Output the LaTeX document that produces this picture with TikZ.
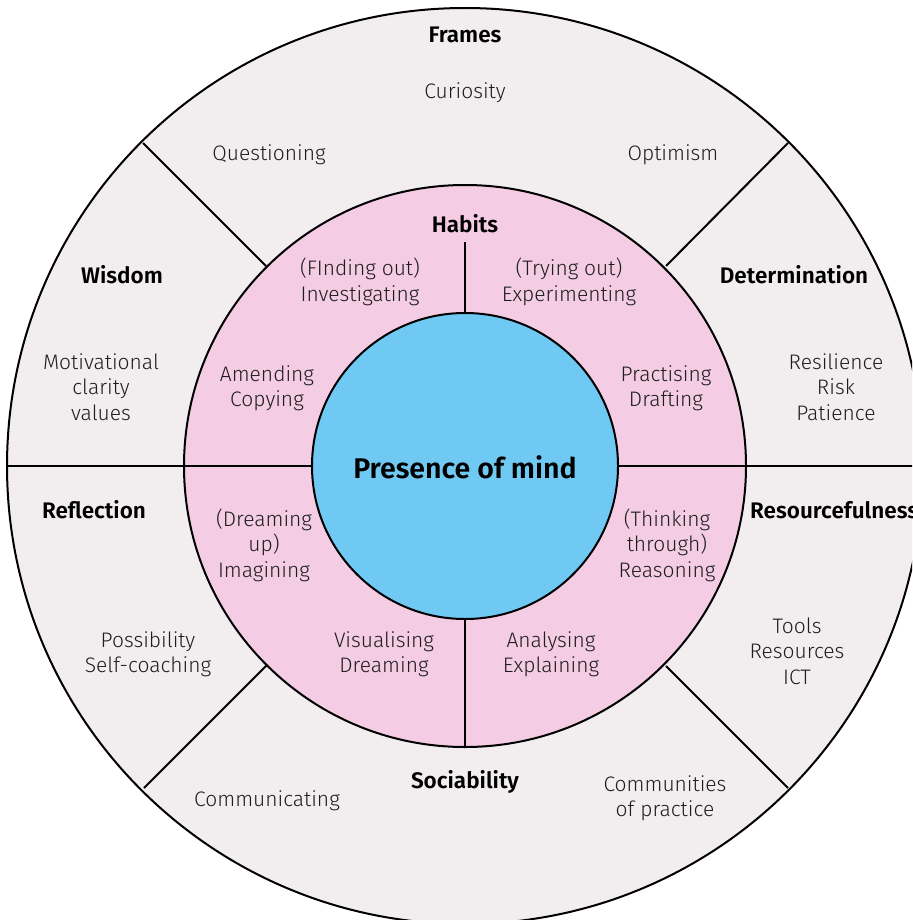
\documentclass[tikz,border=0pt]{standalone}
\usepackage{fontspec}
\setmainfont{Fira Sans}[UprightFont=* Light, BoldFont=* SemiBold]
\definecolor{outerc}{HTML}{F2EEEF}
\definecolor{pinkc}{HTML}{F4CCE3}
\definecolor{bluec}{HTML}{6FC9F3}
\definecolor{txtc}{HTML}{1E1E1E}
\begin{document}
\begin{tikzpicture}[x=1pt,y=-1pt,
  txt/.style={align=center, text=txtc, inner sep=0pt, font=\fontsize{21}{25.5}\selectfont},
  hd/.style={align=center, text=black, inner sep=0pt, font=\bfseries\fontsize{22.5}{25}\selectfont},
  ring/.style={draw=black, line width=2pt},
  sep/.style={draw=black, line width=2pt}]
\useasboundingbox (0,0) rectangle (912,920);
\clip (0,0) rectangle (912,920);
\coordinate (c) at (465,466);
\fill[white] (0,0) rectangle (912,920);
\draw[ring, fill=outerc] (c) circle (458);
\draw[ring, fill=pinkc] (c) circle (281);
% separators
\coordinate (ol) at (8,466);   \coordinate (il) at (312,466);
\coordinate (or) at (923,466); \coordinate (ir) at (618,466);
\coordinate (vt1) at (465,242); \coordinate (vt2) at (465,313);
\coordinate (vb1) at (465,619); \coordinate (vb2) at (465,747);
\draw[sep] (ol) -- (il);
\draw[sep] (ir) -- (or);
\draw[sep] (vt1) -- (vt2);
\draw[sep] (vb1) -- (vb2);
\coordinate (d1a) at (143,143); \coordinate (d1b) at (266,266);
\coordinate (d2a) at (788,143); \coordinate (d2b) at (666,266);
\coordinate (d3a) at (144,788); \coordinate (d3b) at (267,665);
\coordinate (d4a) at (788,788); \coordinate (d4b) at (666,666);
\draw[sep] (d1a) -- (d1b);
\draw[sep] (d2a) -- (d2b);
\draw[sep] (d3a) -- (d3b);
\draw[sep] (d4a) -- (d4b);
\draw[ring, fill=bluec] (c) circle (153);
% centre
\node[text=black, inner sep=0pt, font=\bfseries\fontsize{28.5}{30}\selectfont] (pom) at (465,467) {Presence of mind};
% outer ring
\node[hd] (frames) at (465,35) {Frames};
\node[txt] (curio) at (465,93) {Curiosity};
\node[txt] (quest) at (269,155) {Questioning};
\node[txt] (optim) at (673,155) {Optimism};
\node[hd] (wisdom) at (122,275) {Wisdom};
\node[txt] (motiv) at (101,387) {Motivational\\clarity\\values};
\node[hd] (determ) at (794,275) {Determination};
\node[txt] (resil) at (836,387) {Resilience\\Risk\\Patience};
\node[hd] (reflec) at (94,510) {Reflection};
\node[txt] (possib) at (148,654) {Possibility\\Self-coaching};
\node[hd, anchor=west] (resourc) at (750,510) {Resourcefulness};
\node[txt] (tools) at (797,651) {Tools\\Resources\\ICT};
\node[hd] (socia) at (465,782) {Sociability};
\node[txt] (commun) at (267,801) {Communicating};
\node[txt] (commprac) at (665,798) {Communities\\of practice};
% middle ring
\node[hd] (habits) at (465,224) {Habits};
\node[txt] (finding) at (360,282) {(FInding out)\\Investigating};
\node[txt] (trying) at (569,282) {(Trying out)\\Experimenting};
\node[txt] (amend) at (267,388) {Amending\\Copying};
\node[txt] (pract) at (666,388) {Practising\\Drafting};
\node[txt] (dream) at (264,545) {(Dreaming\\up)\\Imagining};
\node[txt] (think) at (667,545) {(Thinking\\through)\\Reasoning};
\node[txt] (visual) at (384,654) {Visualising\\Dreaming};
\node[txt] (analys) at (551,654) {Analysing\\Explaining};
\end{tikzpicture}
\end{document}
